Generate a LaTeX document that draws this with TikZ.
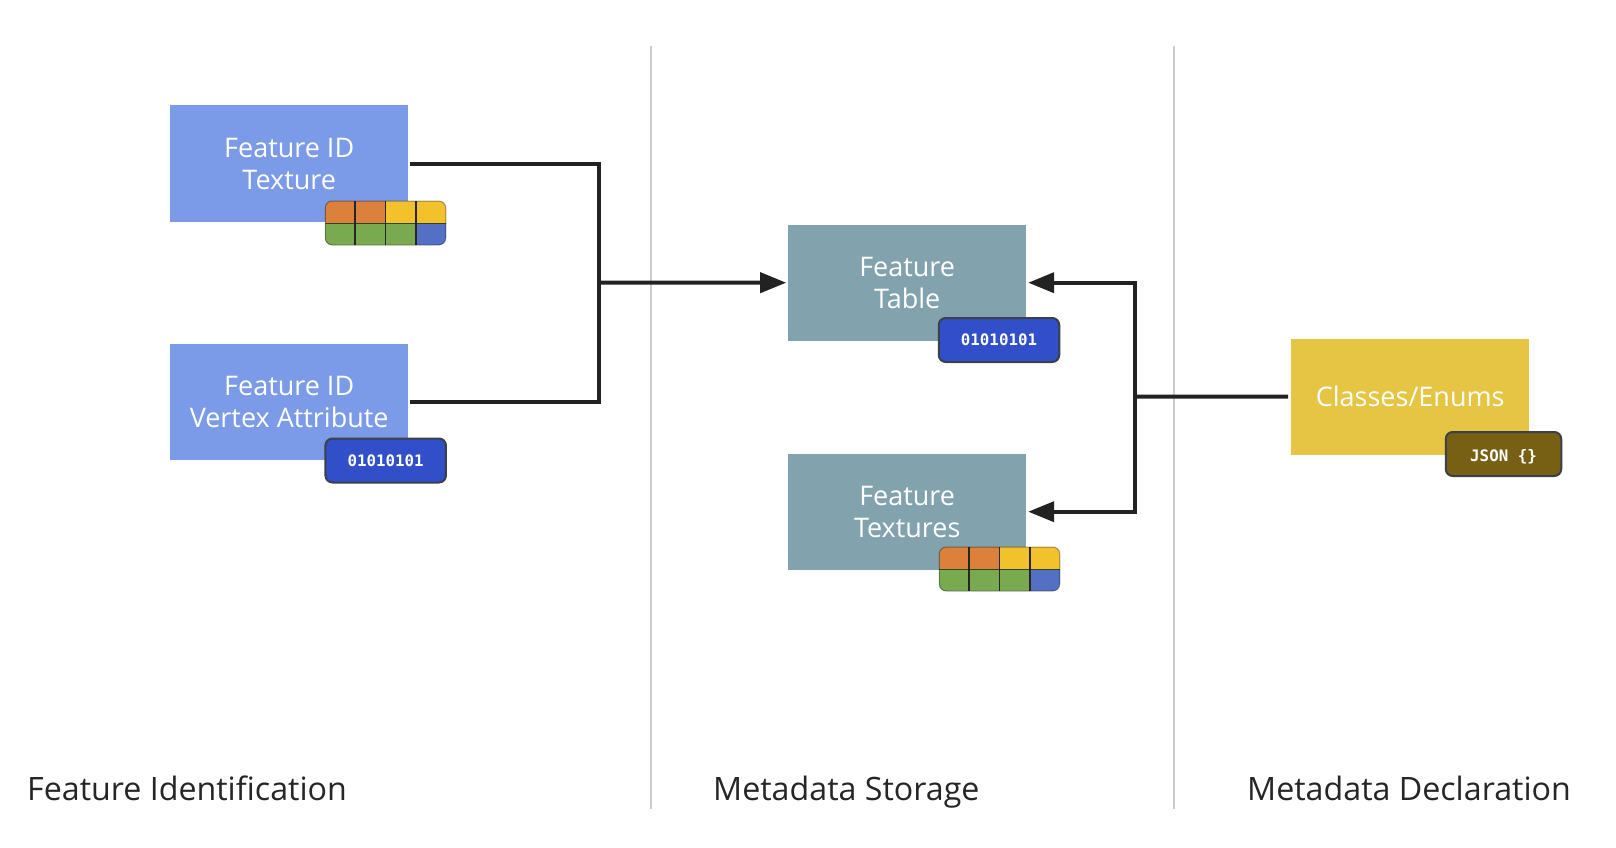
\documentclass[tikz,border=0pt]{standalone}
\usepackage{fontspec}
\setmainfont{Open Sans}
\newfontfamily\badgefont{DejaVu Sans Mono}[BoldFont={DejaVu Sans Mono Bold}]
\usetikzlibrary{arrows.meta,calc}
\definecolor{idblue}{HTML}{7B9AE8}
\definecolor{storeteal}{HTML}{82A3AE}
\definecolor{declyellow}{HTML}{E5C543}
\definecolor{badgeblue}{HTML}{304FC8}
\definecolor{badgebrown}{HTML}{776013}
\definecolor{badgeedge}{HTML}{3C4048}
\definecolor{linedark}{HTML}{222222}
\definecolor{divider}{HTML}{CCCCCC}
\definecolor{texorange}{HTML}{DC813B}
\definecolor{texyellow}{HTML}{F2C22D}
\definecolor{texgreen}{HTML}{7AAA4F}
\definecolor{texblue}{HTML}{5470C4}
\tikzset{
  x=1pt,y=-1pt,
  mainbox/.style={minimum width=238pt,minimum height=116.4pt,inner sep=0pt,outer sep=0pt,
    text=white,align=center,font=\fontsize{27}{31.8}\selectfont},
  idbox/.style={mainbox,fill=idblue},
  storebox/.style={mainbox,fill=storeteal},
  declbox/.style={mainbox,fill=declyellow},
  databadge/.style={minimum width=120.5pt,minimum height=44pt,inner sep=0pt,outer sep=0pt,
    draw=badgeedge,line width=2pt,rounded corners=7pt,fill=badgeblue,text=white,
    font=\badgefont\bfseries\fontsize{15.8}{18}\selectfont},
  jsonbadge/.style={databadge,minimum width=115.5pt,fill=badgebrown,text height=14pt,text depth=0pt},
  texbadge/.style={minimum width=120.5pt,minimum height=44pt,inner sep=0pt,outer sep=0pt},
  flow/.style={draw=linedark,line width=4pt},
  flowarrow/.style={flow,-{Stealth[length=26pt,width=20pt,inset=0pt]}},
  sep/.style={draw=divider,line width=2pt},
  caption/.style={inner sep=0pt,text=black!85,anchor=base west,font=\fontsize{32.2}{38}\selectfont},
}
\newcommand{\texcells}[1]{%
  \begin{scope}
    \clip[rounded corners=7pt] (#1.north west) rectangle (#1.south east);
    \fill[texorange] (#1.north west) rectangle ($(#1.east)!0.5!(#1.west)$);
    \fill[texyellow] ($(#1.north)$) rectangle (#1.east);
    \fill[texgreen] (#1.west) rectangle ($(#1.south)!0.25!(#1.south east)$);
    \fill[texgreen] (#1.west) rectangle ($(#1.south)!0.5!(#1.south east)$);
    \fill[texblue] ($(#1.center)!0.5!(#1.east)$) rectangle (#1.south east);
    \draw[black!60!texgreen,line width=1pt] (#1.west) -- (#1.east);
    \foreach \t in {0.25,0.5,0.75}
      \draw[black!85,line width=1.8pt] ($(#1.north west)!\t!(#1.north east)$) -- ($(#1.south west)!\t!(#1.south east)$);
  \end{scope}
  \draw[black,opacity=0.35,line width=1pt,rounded corners=7pt] (#1.north west) rectangle (#1.south east);}
\begin{document}
\begin{tikzpicture}
\useasboundingbox (0,0) rectangle (1616,848);
\fill[white] (0,0) rectangle (1616,848);

\coordinate (s1a) at (651,46); \coordinate (s1b) at (651,809);
\coordinate (s2a) at (1174,46); \coordinate (s2b) at (1174,809);
\draw[sep] (s1a) -- (s1b);
\draw[sep] (s2a) -- (s2b);

\node[idbox] (fidtex) at (289.2,163.7) {Feature ID\\Texture};
\node[idbox] (fidattr) at (289.2,401.7) {Feature ID\\Vertex Attribute};
\node[storebox] (ftable) at (907.2,282.7) {Feature\\Table};
\node[storebox] (ftex) at (907.2,511.7) {Feature\\Textures};
\node[declbox] (classes) at (1410.2,396.7) {Classes/Enums};

\node[texbadge] (b1) at (385.5,223) {};
\texcells{b1}
\node[databadge] (b2) at (385.7,460.5) {01010101};
\node[databadge] (b3) at (999,340) {01010101};
\node[texbadge] (b4) at (999.5,569) {};
\texcells{b4}
\node[jsonbadge] (b5) at (1503.5,454) {JSON \{\}};

\coordinate (jl) at (599,282.5);
\coordinate (jr) at (1135,396.5);
\draw[flow] ([xshift=2pt]fidtex.east) -| (jl);
\draw[flow] ([xshift=2pt]fidattr.east) -| (jl);
\draw[flowarrow] (jl) -- ([xshift=-2pt]ftable.west);
\draw[flow] ([xshift=-3pt]classes.west) -- (jr);
\draw[flowarrow] (jr) |- ([xshift=2pt]ftable.east);
\draw[flowarrow] (jr) |- ([xshift=2pt]ftex.east);

\node[caption] (c1) at (27,800) {Feature Identification};
\node[caption] (c2) at (713,800) {Metadata Storage};
\node[caption] (c3) at (1247,800) {Metadata Declaration};
\end{tikzpicture}
\end{document}
